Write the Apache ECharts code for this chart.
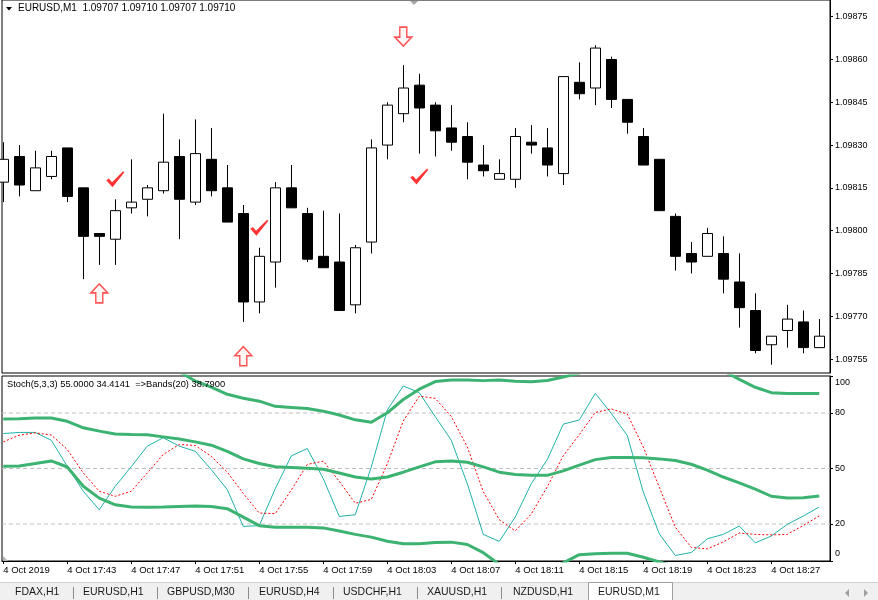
<!DOCTYPE html>
<html>
<head>
<meta charset="utf-8">
<script src="https://cdn.jsdelivr.net/npm/echarts@6/dist/echarts.min.js"></script>
<style>
html,body{margin:0;padding:0;background:#fff;}
#chart{width:878px;height:600px;}
</style>
</head>
<body>
<div id="chart"></div>
<script>
// ---------- DATA ----------
const times = ['17:39','17:40','17:41','17:42','17:43','17:44','17:45','17:46','17:47','17:48','17:49','17:50','17:51','17:52','17:53','17:54','17:55','17:56','17:57','17:58','17:59','18:00','18:01','18:02','18:03','18:04','18:05','18:06','18:07','18:08','18:09','18:10','18:11','18:12','18:13','18:14','18:15','18:16','18:17','18:18','18:19','18:20','18:21','18:22','18:23','18:24','18:25','18:26','18:27','18:28','18:29','18:30'];
const timeTickIdx = [0,4,8,12,16,20,24,28,32,36,40,44,48];
const timeTickLabels = ['4 Oct 2019','4 Oct 17:43','4 Oct 17:47','4 Oct 17:51','4 Oct 17:55','4 Oct 17:59','4 Oct 18:03','4 Oct 18:07','4 Oct 18:11','4 Oct 18:15','4 Oct 18:19','4 Oct 18:23','4 Oct 18:27'];

const opens  = [1.09817,1.09826,1.09814,1.09819,1.09829,1.09815,1.09799,1.09797,1.09808,1.09811,1.09814,1.09826,1.09810,1.09825,1.09815,1.09806,1.09775,1.09789,1.09815,1.09806,1.09791,1.09789,1.09774,1.09796,1.09830,1.09841,1.09851,1.09844,1.09836,1.09833,1.09823,1.09818,1.09818,1.09831,1.09829,1.09820,1.09852,1.09850,1.09860,1.09846,1.09833,1.09825,1.09805,1.09792,1.09791,1.09792,1.09782,1.09772,1.09760,1.09765,1.09768,1.09759];
const closes = [1.09825,1.09816,1.09822,1.09826,1.09812,1.09798,1.09798,1.09807,1.09810,1.09815,1.09824,1.09811,1.09827,1.09814,1.09803,1.09775,1.09791,1.09815,1.09808,1.09790,1.09787,1.09772,1.09794,1.09829,1.09844,1.09850,1.09843,1.09835,1.09831,1.09824,1.09821,1.09820,1.09833,1.09830,1.09823,1.09854,1.09848,1.09864,1.09846,1.09838,1.09823,1.09807,1.09791,1.09789,1.09799,1.09783,1.09773,1.09758,1.09763,1.09769,1.09759,1.09763];
const lows   = [1.09810,1.09812,1.09814,1.09818,1.09810,1.09783,1.09788,1.09788,1.09806,1.09805,1.09813,1.09797,1.09809,1.09812,1.09803,1.09768,1.09771,1.09780,1.09808,1.09789,1.09787,1.09772,1.09771,1.09792,1.09825,1.09838,1.09827,1.09826,1.09828,1.09818,1.09819,1.09818,1.09815,1.09827,1.09819,1.09816,1.09846,1.09844,1.09843,1.09834,1.09823,1.09807,1.09786,1.09785,1.09791,1.09778,1.09766,1.09757,1.09753,1.09759,1.09757,1.09759];
const highs  = [1.09831,1.09830,1.09828,1.09828,1.09829,1.09815,1.09799,1.09811,1.09825,1.09816,1.09841,1.09832,1.09839,1.09836,1.09823,1.09809,1.09794,1.09817,1.09823,1.09808,1.09807,1.09806,1.09795,1.09832,1.09845,1.09858,1.09855,1.09845,1.09844,1.09838,1.09830,1.09825,1.09836,1.09837,1.09836,1.09854,1.09859,1.09865,1.09861,1.09846,1.09836,1.09825,1.09806,1.09796,1.09801,1.09798,1.09792,1.09778,1.09763,1.09774,1.09772,1.09769];

const priceTicks = [1.09755,1.09770,1.09785,1.09800,1.09815,1.09830,1.09845,1.09860,1.09875];

const stochMain   = [68.9,69.5,69.5,65.3,51.2,37.7,27.7,40.4,51.0,62.1,66.6,62.1,59.3,49.4,38.6,18.7,19.1,39.1,56.8,60.8,44.5,24.1,25.0,50.8,81.6,94.6,91.0,78.0,65.3,41.8,14.4,10.6,23.8,41.8,54.8,74.0,76.2,90.6,79.8,67.8,37.3,14.7,3.0,4.6,12.0,14.4,18.9,9.8,13.5,19.8,24.3,29.2];
const stochSignal = [64.4,68.0,69.3,68.1,60.3,47.6,37.7,35.0,37.7,47.6,57.6,63.0,62.4,56.6,48.0,36.5,25.9,25.6,38.3,52.2,54.0,43.1,31.2,33.3,52.5,75.7,89.1,87.9,78.1,61.7,37.5,22.3,16.3,25.4,40.1,56.9,68.3,80.3,82.2,79.4,61.6,39.9,18.3,7.4,6.5,10.3,15.1,14.4,14.1,14.4,19.2,24.4];
const bandUpper   = [102.2,102.4,102.2,102.0,102.5,103.6,106.4,107.0,107.6,107.4,105.0,102.3,97.3,94.0,90.1,88.0,86.4,83.6,83.0,82.4,81.0,78.9,76.3,75.0,80.1,87.3,92.9,97.0,97.9,97.9,97.5,97.8,97.1,96.9,97.6,99.5,101.5,105.7,107.6,107.6,109.6,110.9,111.6,110.6,107.2,102.8,98.2,93.9,91.0,90.6,90.6,90.6];
const bandMiddle  = [76.7,76.9,77.3,77.3,75.5,72.0,70.2,68.7,68.4,68.2,67.1,65.9,64.4,62.6,59.3,55.2,52.7,50.9,50.5,50.1,49.6,47.6,45.4,44.3,45.4,48.0,50.9,53.6,54.1,53.4,50.9,48.0,46.7,46.3,46.3,48.7,51.8,54.8,55.9,55.9,55.8,55.2,54.3,52.3,49.1,45.4,42.2,38.9,35.0,34.0,34.2,35.1];
const bandLower   = [51.2,51.4,52.7,54.1,50.8,40.4,34.0,30.4,29.2,29.0,29.2,29.5,29.7,29.5,28.3,23.7,19.1,18.3,18.3,18.3,17.9,16.2,14.4,12.9,10.7,9.3,9.3,10.0,10.2,8.9,4.5,-1.8,-3.7,-4.3,-5.2,-1.0,3.4,3.9,4.2,4.2,2.0,-0.5,-3.0,-6.0,-9.0,-12.0,-13.8,-16.1,-21.0,-22.6,-22.2,-20.4];
const stochLevels = [80,50,20];
const stochAxisLabels = ['100','80','50','20','0'];

const arrowsUp   = [[6,1.09778],[15,1.09756]];
const arrowsDown = [[25,1.09868]];
const checkMarks = [[7,1.09818],[16,1.09801],[26,1.09819]];

const headerText = 'EURUSD,M1  1.09707 1.09710 1.09707 1.09710';
const stochHeader = 'Stoch(5,3,3) 55.0000 34.4141  =>Bands(20) 38.7900';
const tabs = ['FDAX,H1','EURUSD,H1','GBPUSD,M30','EURUSD,H4','USDCHF,H1','XAUUSD,H1','NZDUSD,H1','EURUSD,M1'];

// ---------- LAYOUT ----------
const FONT = "'Liberation Sans', Arial, sans-serif";
const XMIN = -0.08, XMAX = 51.67;
const PMIN = 1.097501, PMAX = 1.0988085;

const candleData = opens.map((o,i)=>[i,o,closes[i],lows[i],highs[i]]);
const toXY = arr => arr.map((v,i)=>[i,v]);

const arrowUpPath = 'path://M8.5,0 L17,9 L12,9 L12,19 L5,19 L5,9 L0,9 Z';
const arrowDownPath = 'path://M5,0 L12,0 L12,10 L17,10 L8.5,19 L0,10 L5,10 Z';
const checkPath = 'path://M0,9 L2.5,7.3 L5.8,11 L16.8,0 L18,1.2 L6.2,16 Z';

const series = [
  {
    type:'candlestick', xAxisIndex:0, yAxisIndex:0,
    data:candleData, encode:{x:0,y:[1,2,3,4]},
    barWidth:10,
    itemStyle:{color:'#ffffff',color0:'#000000',borderColor:'#000000',borderColor0:'#000000',borderWidth:1},
    z:2
  },
  {
    type:'scatter', xAxisIndex:0, yAxisIndex:0, data:arrowsUp,
    symbol:arrowUpPath, symbolSize:[17,19],
    itemStyle:{color:'#fff4f4',borderColor:'#ff2a2a',borderWidth:1.5}, z:5
  },
  {
    type:'scatter', xAxisIndex:0, yAxisIndex:0, data:arrowsDown,
    symbol:arrowDownPath, symbolSize:[17,19],
    itemStyle:{color:'#fff4f4',borderColor:'#ff2a2a',borderWidth:1.5}, z:5
  },
  {
    type:'scatter', xAxisIndex:0, yAxisIndex:0, data:checkMarks,
    symbol:checkPath, symbolSize:[18,16],
    itemStyle:{color:'#ff0000'}, z:5
  }
];
stochLevels.forEach(lv=>{
  series.push({
    type:'line', xAxisIndex:1, yAxisIndex:1, data:[[XMIN,lv],[XMAX,lv]],
    showSymbol:false, silent:true,
    lineStyle:{color:'#c0c0c0',width:1,type:[4,3]}, z:1
  });
});
series.push(
  {type:'line', xAxisIndex:1, yAxisIndex:1, data:toXY(stochMain), showSymbol:false,
   lineStyle:{color:'#20b2aa',width:1}, z:3},
  {type:'line', xAxisIndex:1, yAxisIndex:1, data:toXY(stochSignal), showSymbol:false,
   lineStyle:{color:'#ff0000',width:1,type:[2,2]}, z:3},
  {type:'line', xAxisIndex:1, yAxisIndex:1, data:toXY(bandUpper), showSymbol:false,
   lineStyle:{color:'#3cb371',width:3}, z:4},
  {type:'line', xAxisIndex:1, yAxisIndex:1, data:toXY(bandMiddle), showSymbol:false,
   lineStyle:{color:'#3cb371',width:3}, z:4},
  {type:'line', xAxisIndex:1, yAxisIndex:1, data:toXY(bandLower), showSymbol:false,
   lineStyle:{color:'#3cb371',width:3}, z:4}
);

// tabs graphic
const tabX = [15,83,167,259,343,427,513,598];
const sepX = [73,157,248,333,417,501];
const graphic = [
  {type:'polygon', shape:{points:[[6,7],[12,7],[9,10.5]]}, style:{fill:'#000'}, z:100},
  {type:'text', x:18, y:8.5, style:{text:headerText, font:'10px '+FONT, fill:'#000', verticalAlign:'middle'}, z:100},
  {type:'text', x:7, y:384.5, style:{text:stochHeader, font:'9.3px '+FONT, fill:'#000', verticalAlign:'middle'}, z:100},
  {type:'polygon', shape:{points:[[410,1],[418,1],[414,5]]}, style:{fill:'#a8a8a8'}, z:100},
  {type:'polygon', shape:{points:[[3,556],[3,561],[8,561]]}, style:{fill:'#b8b8b8'}, z:100},
  {type:'rect', shape:{x:0,y:582,width:878,height:18}, style:{fill:'#f0f0f0'}, z:90},
  {type:'line', shape:{x1:0,y1:582.5,x2:878,y2:582.5}, style:{stroke:'#d0d0d0',lineWidth:1}, z:91},
  {type:'rect', shape:{x:588.5,y:582.5,width:84,height:18}, style:{fill:'#ffffff',stroke:'#a0a0a0',lineWidth:1}, z:92},
  {type:'polygon', shape:{points:[[849,589],[849,597],[845,593]]}, style:{fill:'#a0a0a0'}, z:93},
  {type:'polygon', shape:{points:[[864,589],[864,597],[868,593]]}, style:{fill:'#a0a0a0'}, z:93}
];
tabs.forEach((t,i)=>{
  graphic.push({type:'text', x:tabX[i], y:592.5, style:{text:t, font:'10.5px '+FONT, fill:'#1a1a1a', verticalAlign:'middle'}, z:95});
});
sepX.forEach(x=>{
  graphic.push({type:'line', shape:{x1:x+0.5,y1:587,x2:x+0.5,y2:599}, style:{stroke:'#8a8a8a',lineWidth:1}, z:95});
});

const option = {
  animation:false,
  backgroundColor:'#ffffff',
  grid:[
    {left:2, top:0, width:828, height:373, show:true, borderColor:'#000', borderWidth:1, backgroundColor:'#fff'},
    {left:2, top:376, width:828, height:185, show:true, borderColor:'#000', borderWidth:1, backgroundColor:'#fff'}
  ],
  xAxis:[
    {type:'value', gridIndex:0, min:XMIN, max:XMAX, show:false},
    {type:'value', gridIndex:1, min:XMIN, max:XMAX,
     axisLine:{show:true,onZero:false,lineStyle:{color:'#000'}},
     axisTick:{show:true,customValues:timeTickIdx,length:3,lineStyle:{color:'#000'}},
     axisLabel:{customValues:timeTickIdx, align:'left', margin:4, color:'#000', fontSize:9.5, fontFamily:FONT,
       formatter:v=>timeTickLabels[timeTickIdx.indexOf(Math.round(v))] || ''},
     splitLine:{show:false}}
  ],
  yAxis:[
    {type:'value', gridIndex:0, position:'right', min:PMIN, max:PMAX,
     axisLine:{show:true,onZero:false,lineStyle:{color:'#000'}},
     axisTick:{show:true,customValues:priceTicks,length:3,lineStyle:{color:'#000'}},
     axisLabel:{customValues:priceTicks, margin:5, color:'#000', fontSize:9, fontFamily:FONT,
       formatter:v=>v.toFixed(5)},
     splitLine:{show:false}},
    {type:'value', gridIndex:1, position:'right', min:0, max:100,
     axisLine:{show:true,onZero:false,lineStyle:{color:'#000'}},
     axisTick:{show:true,customValues:[100,80,50,20,0],length:3,lineStyle:{color:'#000'}},
     axisLabel:{customValues:[96.7,80,50,20,4.1], margin:5, color:'#000', fontSize:9, fontFamily:FONT,
       formatter:v=> v>90 ? stochAxisLabels[0] : v<10 ? stochAxisLabels[4] : String(Math.round(v))},
     splitLine:{show:false}}
  ],
  series:series,
  graphic:graphic
};

const chart = echarts.init(document.getElementById('chart'), null, {renderer:'canvas'});
chart.setOption(option);
</script>
</body>
</html>
